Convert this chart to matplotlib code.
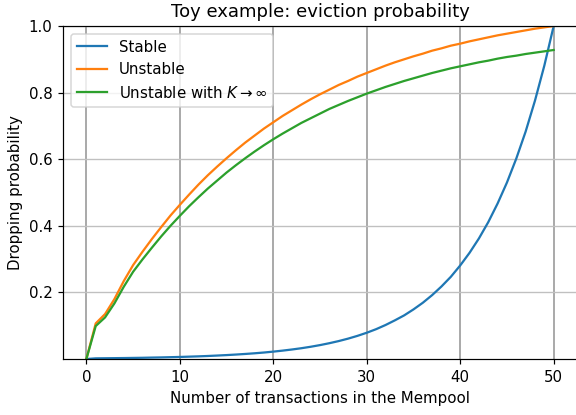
import numpy as np
import matplotlib
matplotlib.use('Agg')
import matplotlib.pyplot as plt

n_tx = list(range(51))

stable = [0.0, 0.0020, 0.0023, 0.0026, 0.0029, 0.0033, 0.0037, 0.0043, 0.0048, 0.0055,
          0.0062, 0.0071, 0.0080, 0.0091, 0.0104, 0.0118, 0.0134, 0.0152, 0.0172, 0.0195,
          0.0222, 0.0252, 0.0286, 0.0324, 0.0368, 0.0418, 0.0475, 0.0539, 0.0612, 0.0695,
          0.0789, 0.0896, 0.102, 0.116, 0.131, 0.149, 0.169, 0.192, 0.218, 0.247,
          0.281, 0.319, 0.362, 0.411, 0.467, 0.530, 0.602, 0.683, 0.776, 0.881, 1.0]

unstable = [0.0, 0.107, 0.135, 0.180, 0.234, 0.282, 0.322, 0.360, 0.396, 0.431,
            0.463, 0.494, 0.524, 0.552, 0.578, 0.603, 0.627, 0.650, 0.671, 0.692,
            0.711, 0.730, 0.747, 0.764, 0.780, 0.795, 0.809, 0.823, 0.835, 0.848,
            0.859, 0.870, 0.881, 0.891, 0.900, 0.909, 0.917, 0.926, 0.933, 0.941,
            0.947, 0.954, 0.960, 0.966, 0.972, 0.977, 0.982, 0.987, 0.992, 0.996, 1.0]

unstable_inf = [0.0, 0.099, 0.125, 0.167, 0.217, 0.262, 0.299, 0.334, 0.368, 0.400,
                0.430, 0.459, 0.486, 0.512, 0.536, 0.560, 0.582, 0.603, 0.623, 0.642,
                0.660, 0.677, 0.693, 0.709, 0.723, 0.737, 0.751, 0.763, 0.775, 0.786,
                0.797, 0.807, 0.817, 0.826, 0.835, 0.843, 0.851, 0.859, 0.866, 0.873,
                0.879, 0.885, 0.891, 0.896, 0.902, 0.907, 0.911, 0.916, 0.920, 0.924, 0.928]

# default sizes, just rendered at a higher dpi
fig = plt.figure(figsize=(576 / 108, 415 / 108), dpi=108)
ax = fig.add_axes([0.1094, 0.1349, 0.8924, 0.8024])

ax.plot(n_tx, stable, label='Stable')
ax.plot(n_tx, unstable, label='Unstable')
ax.plot(n_tx, unstable_inf, label=r'Unstable with $K \to \infty$')

ax.set_ylim(0, 1)
ax.set_yticks([0.2, 0.4, 0.6, 0.8, 1.0])
ax.grid(axis='x', color='#aaaaaa', linewidth=1.3)
ax.grid(axis='y', color='#c0c0c0', linewidth=0.9)
ax.set_axisbelow(True)

ax.set_title('Toy example: eviction probability')
ax.set_xlabel('Number of transactions in the Mempool')
ax.set_ylabel('Dropping probability')
ax.legend(loc='upper left')

fig.savefig('out.png', dpi=108)
